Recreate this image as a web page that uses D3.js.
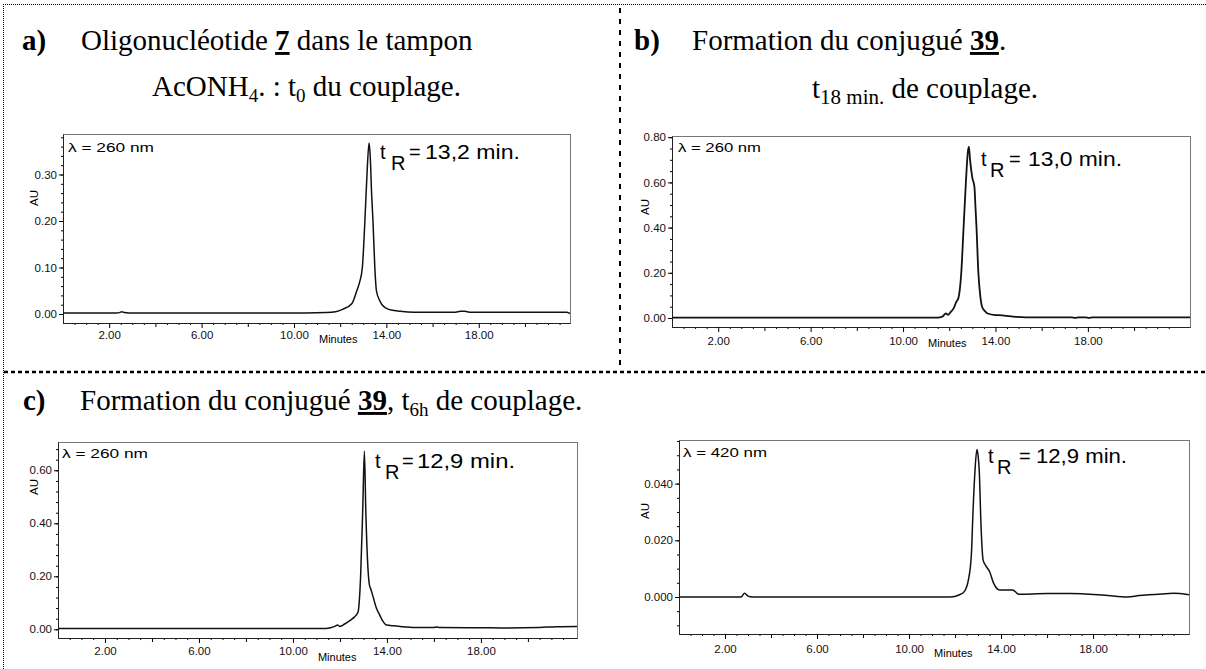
<!DOCTYPE html>
<html><head><meta charset="utf-8">
<script src="https://cdn.jsdelivr.net/npm/d3@7"></script>
<style>body{margin:0;background:#fff}svg{display:block}</style>
</head><body>
<svg id="c" width="1206" height="669"></svg>
<script>
// ---------- DATA ----------
const xTickValues = [2, 6, 10, 14, 18];
const xTickLabels = ["2.00", "6.00", "10.00", "14.00", "18.00"];
const xMidTicks = [4, 8, 12, 16, 20];

const aTime = [0, 2.3, 2.45, 2.55, 2.65, 2.85, 10.5, 11.4, 11.8, 12.1, 12.5, 12.72, 12.85, 12.96, 13.07, 13.17, 13.25, 13.3, 13.36, 13.42, 13.5, 13.57, 13.7, 13.81, 14.1, 14.6, 15.2, 17.0, 17.2, 17.4, 17.6, 21.8, 21.95];
const aAU   = [0.002, 0.002, 0.003, 0.005, 0.003, 0.002, 0.002, 0.003, 0.005, 0.010, 0.022, 0.050, 0.070, 0.100, 0.200, 0.310, 0.368, 0.340, 0.260, 0.200, 0.100, 0.050, 0.030, 0.020, 0.010, 0.006, 0.004, 0.004, 0.006, 0.006, 0.004, 0.004, 0.001];
const aYTicks = [0, 0.1, 0.2, 0.3];
const aYLabels = ["0.00", "0.10", "0.20", "0.30"];

const bTime = [0, 11.5, 11.7, 11.85, 11.95, 12.05, 12.2, 12.3, 12.4, 12.52, 12.62, 12.72, 12.8, 12.85, 12.9, 13.0, 13.09, 13.13, 13.18, 13.26, 13.34, 13.42, 13.55, 13.66, 14.0, 14.3, 14.6, 14.9, 15.3, 17.3, 17.45, 17.6, 17.9, 18.05, 18.2, 22.42];
const bAU   = [0.002, 0.002, 0.006, 0.020, 0.014, 0.025, 0.045, 0.070, 0.090, 0.200, 0.400, 0.600, 0.730, 0.758, 0.700, 0.620, 0.580, 0.500, 0.400, 0.200, 0.100, 0.050, 0.030, 0.020, 0.013, 0.012, 0.008, 0.005, 0.003, 0.003, 0.001, 0.003, 0.003, 0.001, 0.003, 0.003];
const bYTicks = [0, 0.2, 0.4, 0.6, 0.8];
const bYLabels = ["0.00", "0.20", "0.40", "0.60", "0.80"];

const cTime = [0, 11.4, 11.6, 11.8, 11.9, 12.0, 12.2, 12.45, 12.6, 12.77, 12.88, 12.97, 13.04, 13.1, 13.18, 13.25, 13.32, 13.42, 13.55, 13.66, 13.8, 13.99, 14.3, 14.7, 15.1, 16.0, 16.1, 16.25, 18.0, 19.0, 20.5, 21.2, 22.09];
const cAU   = [0.003, 0.003, 0.006, 0.012, 0.016, 0.011, 0.020, 0.035, 0.045, 0.065, 0.200, 0.450, 0.672, 0.450, 0.250, 0.170, 0.150, 0.120, 0.080, 0.060, 0.035, 0.016, 0.013, 0.010, 0.007, 0.007, 0.009, 0.007, 0.006, 0.005, 0.007, 0.010, 0.011];
const cYTicks = [0, 0.2, 0.4, 0.6];
const cYLabels = ["0.00", "0.20", "0.40", "0.60"];

const dTime = [0, 2.7, 2.85, 3.0, 3.2, 11.8, 12.17, 12.41, 12.58, 12.71, 12.78, 12.87, 12.95, 13.0, 13.05, 13.13, 13.22, 13.34, 13.5, 13.67, 13.93, 14.1, 14.5, 14.77, 16.0, 17.0, 18.5, 19.5, 20.0, 21.0, 21.5, 22.17];
const dAU   = [0.0, 0.0, 0.0013, 0.0003, 0.0, 0.0, 0.0007, 0.002, 0.006, 0.015, 0.030, 0.045, 0.052, 0.050, 0.045, 0.025, 0.013, 0.011, 0.009, 0.005, 0.0025, 0.0025, 0.0025, 0.001, 0.0012, 0.0012, 0.0006, 0.0, 0.0005, 0.0011, 0.0013, 0.0008];
const dYTicks = [0, 0.02, 0.04];
const dYLabels = ["0.000", "0.020", "0.040"];

const lambdaTexts = ["λ = 260 nm", "λ = 260 nm", "λ = 260 nm", "λ = 420 nm"];
const tRTexts = ["13,2 min.", "13,0 min.", "12,9 min.", "12,9 min."];

// ---------- LAYOUT ----------
const svg = d3.select("#c");
const SANS = "'Liberation Sans', Arial, sans-serif";
const SERIF = "'Liberation Serif', 'Times New Roman', serif";

const panels = [
  {id:"a", time:aTime, au:aAU, yT:aYTicks, yL:aYLabels, l:63, r:570, t:134, b:323, xMax:21.95, yDom:[-0.01935, 0.3871], yMinor:0.02, pad:3, minY:20,
   auX:34, auY:198, lam:[68,152,86], tR:{t:380,R:391,eq:409,n:425,nw:95,y:159}, sw:1.5},
  {id:"b", time:bTime, au:bAU, yT:bYTicks, yL:bYLabels, l:672, r:1190, t:136, b:327, xMax:22.42, yDom:[-0.0398, 0.8053], yMinor:0.05, pad:5, minY:20,
   auX:645, auY:207, lam:[678,152,83], tR:{t:981,R:990,eq:1009,n:1028,nw:94,y:166}, sw:1.8},
  {id:"c", time:cTime, au:cAU, yT:cYTicks, yL:cYLabels, l:58, r:577, t:442, b:638, xMax:22.09, yDom:[-0.0328, 0.7068], yMinor:0.04, pad:4, minY:23,
   auX:34, auY:487, lam:[62,458,86], tR:{t:375,R:385,eq:402,n:417,nw:98,y:468}, sw:1.5},
  {id:"d", time:dTime, au:dAU, yT:dYTicks, yL:dYLabels, l:679, r:1189, t:440, b:634, xMax:22.17, yDom:[-0.01305, 0.05538], yMinor:0.005, pad:6, minY:23,
   auX:645, auY:511, lam:[683,457,84], tR:{t:988,R:997,eq:1019,n:1036,nw:91,y:463}, sw:1.5}
];

// ---------- BORDERS ----------
svg.append("line").attr("x1",3.5).attr("x2",3.5).attr("y1",4).attr("y2",669)
  .attr("stroke","#000").attr("stroke-width",1).attr("stroke-dasharray","1,1");
svg.append("line").attr("x1",3).attr("x2",1206).attr("y1",4.5).attr("y2",4.5)
  .attr("stroke","#000").attr("stroke-width",1).attr("stroke-dasharray","1,1");
svg.append("line").attr("x1",620).attr("x2",620).attr("y1",8).attr("y2",370)
  .attr("stroke","#000").attr("stroke-width",2).attr("stroke-dasharray","5,6");
svg.append("line").attr("x1",4).attr("x2",1206).attr("y1",372).attr("y2",372)
  .attr("stroke","#000").attr("stroke-width",2.5).attr("stroke-dasharray","4,3");

// ---------- TITLES ----------
function title(x, y, parts) {
  const t = svg.append("text").attr("x", x).attr("y", y)
    .attr("font-family", SERIF).attr("font-size", 29).attr("fill", "#000");
  let shift = 0;
  parts.forEach(p => {
    const s = t.append("tspan").text(p.s);
    let dy = 0;
    if (p.sub) { dy = 6 - shift; shift = 6; s.attr("font-size", p.subSize || 19); }
    else { dy = -shift; shift = 0; }
    if (dy) s.attr("dy", dy);
    if (p.b) s.attr("font-weight", "bold");
    if (p.u) s.attr("text-decoration", "underline");
  });
}
title(22, 50, [{s:"a)", b:true}]);
title(81, 50, [{s:"Oligonucléotide "}, {s:"7", b:true, u:true}, {s:" dans le tampon"}]);
title(152, 96, [{s:"AcONH"}, {s:"4", sub:true}, {s:". : t"}, {s:"0", sub:true}, {s:" du couplage."}]);
title(634, 50, [{s:"b)", b:true}]);
title(692, 50, [{s:"Formation du conjugué "}, {s:"39", b:true, u:true}, {s:"."}]);
title(812, 98, [{s:"t"}, {s:"18 min.", sub:true, subSize:21}, {s:" de couplage."}]);
title(23, 410, [{s:"c)", b:true}]);
title(80, 410, [{s:"Formation du conjugué "}, {s:"39", b:true, u:true}, {s:", t"}, {s:"6h", sub:true}, {s:" de couplage."}]);

// ---------- PANELS ----------
panels.forEach((p, i) => {
  const x = d3.scaleLinear().domain([0, p.xMax]).range([p.l, p.r]);
  const y = d3.scaleLinear().domain(p.yDom).range([p.b, p.t]);
  const g = svg.append("g").attr("font-family", SANS);

  g.append("rect").attr("x", p.l + 0.5).attr("y", p.t + 0.5)
    .attr("width", p.r - p.l).attr("height", p.b - p.t)
    .attr("fill", "#fff").attr("stroke", "#777").attr("stroke-width", 1);

  const xMinor = d3.range(0.5, p.xMax, 0.5).filter(v => v % 2 !== 0);
  g.append("g").attr("transform", `translate(0,${p.b})`)
    .call(d3.axisBottom(x).tickValues(xMinor).tickSize(2).tickSizeOuter(0).tickFormat(""))
    .call(a => a.select(".domain").remove());
  g.append("g").attr("transform", `translate(0,${p.b})`)
    .call(d3.axisBottom(x).tickValues(xMidTicks.filter(v => v < p.xMax)).tickSize(4).tickSizeOuter(0).tickFormat(""))
    .call(a => a.select(".domain").remove());
  const xa = g.append("g").attr("transform", `translate(0,${p.b})`)
    .call(d3.axisBottom(x).tickValues(xTickValues).tickSize(5).tickSizeOuter(0).tickPadding(p.pad)
      .tickFormat((d, k) => xTickLabels[k]));
  xa.selectAll("text").attr("font-size", 11.5).attr("font-family", SANS).attr("fill", "#111");
  xa.select(".domain").attr("stroke", "#222");

  const yMinor = d3.range(Math.ceil(p.yDom[0] / p.yMinor) * p.yMinor, p.yDom[1], p.yMinor)
    .map(v => +v.toFixed(4));
  g.append("g").attr("transform", `translate(${p.l},0)`)
    .call(d3.axisLeft(y).tickValues(yMinor).tickSize(2).tickSizeOuter(0).tickFormat(""))
    .call(a => a.select(".domain").remove());
  const ya = g.append("g").attr("transform", `translate(${p.l},0)`)
    .call(d3.axisLeft(y).tickValues(p.yT).tickSize(4).tickSizeOuter(0).tickPadding(2)
      .tickFormat((d, k) => p.yL[k]));
  ya.selectAll("text").attr("font-size", 11.5).attr("font-family", SANS).attr("fill", "#111");
  ya.select(".domain").attr("stroke", "#222");

  g.append("text").attr("transform", `translate(${p.auX},${p.auY}) rotate(-90)`)
    .attr("text-anchor", "middle").attr("dy", "0.35em").attr("font-size", 11.5).text("AU");
  g.append("text").attr("x", x(10) + 25).attr("y", p.b + p.minY)
    .attr("font-size", 11).text("Minutes");

  const cid = "clip" + p.id;
  svg.append("clipPath").attr("id", cid).append("rect")
    .attr("x", p.l).attr("y", p.t).attr("width", p.r - p.l).attr("height", p.b - p.t);
  const pts = p.time.map((t, k) => [t, p.au[k]]);
  g.append("path").datum(pts).attr("clip-path", `url(#${cid})`)
    .attr("fill", "none").attr("stroke", "#111").attr("stroke-width", p.sw)
    .attr("stroke-linejoin", "round")
    .attr("d", d3.line().x(d => x(d[0])).y(d => y(d[1])).curve(d3.curveMonotoneX));

  g.append("text").attr("x", p.lam[0]).attr("y", p.lam[1]).attr("font-size", 13)
    .attr("textLength", p.lam[2]).attr("lengthAdjust", "spacingAndGlyphs").text(lambdaTexts[i]);
  const tr = p.tR;
  g.append("text").attr("x", tr.t).attr("y", tr.y).attr("font-size", 20).text("t");
  g.append("text").attr("x", tr.R).attr("y", tr.y + 11).attr("font-size", 20).text("R");
  g.append("text").attr("x", tr.eq).attr("y", tr.y).attr("font-size", 20).text("=");
  g.append("text").attr("x", tr.n).attr("y", tr.y).attr("font-size", 20)
    .attr("textLength", tr.nw).attr("lengthAdjust", "spacingAndGlyphs").text(tRTexts[i]);
});
</script>
</body></html>
